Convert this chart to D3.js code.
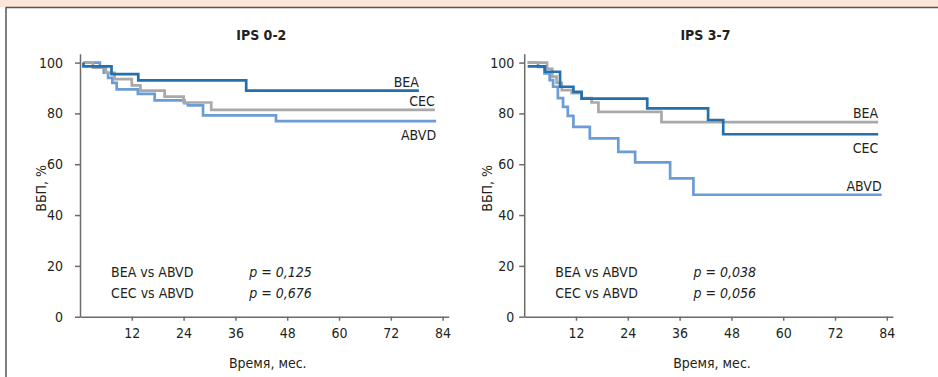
<!DOCTYPE html>
<html lang="ru">
<head>
<meta charset="UTF-8">
<title>ВБП, IPS 0-2 / IPS 3-7</title>
<script src="https://cdn.jsdelivr.net/npm/d3@7.9.0/dist/d3.min.js"></script>
<style>
  html, body { margin: 0; padding: 0; background: #fff; }
  svg { display: block; }
  text { font-family: "DejaVu Sans Condensed", "Liberation Sans Narrow", sans-serif; fill: #231f20; font-size: 14px; }
  .axis path, .axis line { stroke: #6b6b6b; stroke-width: 1.5; }
  .axis text { font-family: "DejaVu Sans Condensed", "Liberation Sans Narrow", sans-serif; font-size: 14px; fill: #231f20; }
</style>
</head>
<body>
<div id="chart"></div>
<script>
// tick labels
const monthTicks = [12, 24, 36, 48, 60, 72, 84];
const pctTicks = [0, 20, 40, 60, 80, 100];
const panelTitles = ["IPS 0-2", "IPS 3-7"];

// Kaplan-Meier steps, [month, %]
const ips02BEA  = [[0.8, 100], [0.8, 98.5], [7.3, 95.5], [13.5, 93], [38.5, 89], [78.5, 89]];
const ips02CEC  = [[0.8, 100], [3, 98], [6, 96], [8, 93.5], [12, 91], [14, 89], [19.6, 86.6],
                   [24, 84.3], [30.4, 81.4], [82.2, 81.4]];
const ips02ABVD = [[0.8, 100], [4.6, 98], [5.5, 96], [6.5, 94], [7.5, 92], [8.5, 89.5], [13.4, 87.7],
                   [17.3, 85.1], [24.2, 84], [25, 83.2], [28.5, 79.2], [45.4, 77], [82.5, 77]];

const ips37BEA  = [[0.8, 100], [5.3, 97.5], [6.5, 94.5], [7.5, 92], [8.7, 89.2], [11, 88], [13.3, 86],
                   [15.6, 84.3], [17.2, 80.6], [31.8, 76.6], [82, 76.6]];
const ips37CEC  = [[0.8, 98.5], [4.8, 96.4], [8.3, 90.5], [11.4, 88.5], [13.3, 85.8], [28.5, 82],
                   [42.6, 77.4], [46.1, 71.8], [82, 71.8]];
const ips37ABVD = [[0.8, 100], [3.2, 98.3], [4.7, 95.7], [5.9, 93.1], [6.7, 90.5], [7.8, 86], [9, 82.6],
                   [10.1, 79], [11.4, 74.7], [15.2, 70.2], [21.8, 64.9], [25.7, 60.7], [33.8, 54.4],
                   [39.2, 48], [82.8, 48]];

// log-rank comparisons
const ips02Tests = [["BEA vs ABVD", "0,125"], ["CEC vs ABVD", "0,676"]];
const ips37Tests = [["BEA vs ABVD", "0,038"], ["CEC vs ABVD", "0,056"]];

const dark = "#2470ad", grey = "#a9a9a9", light = "#6c9cd6";

const W = 938, H = 377;
const svg = d3.select("#chart").append("svg").attr("width", W).attr("height", H);

// frame: peach strip on top, rule under it and on the left
svg.append("rect").attr("x", 0).attr("y", 0).attr("width", W).attr("height", 7).attr("fill", "#fce4d7");
svg.append("line").attr("x1", 6).attr("x2", W).attr("y1", 7.5).attr("y2", 7.5)
  .attr("stroke", "#555").attr("stroke-width", 1.5);
svg.append("line").attr("x1", 6).attr("x2", 6).attr("y1", 7).attr("y2", H)
  .attr("stroke", "#555").attr("stroke-width", 1.5);

const panels = [
  { title: panelTitles[0], x0: 80, yPad: 12, labelGap: 34, tests: ips02Tests,
    series: [
      { name: "ABVD", data: ips02ABVD, color: light, pos: "below" },
      { name: "CEC",  data: ips02CEC,  color: grey,  pos: "above" },
      { name: "BEA",  data: ips02BEA,  color: dark,  pos: "above" }
    ] },
  { title: panelTitles[1], x0: 524.2, yPad: 5, labelGap: 32, tests: ips37Tests,
    series: [
      { name: "ABVD", data: ips37ABVD, color: light, pos: "above" },
      { name: "BEA",  data: ips37BEA,  color: grey,  pos: "above" },
      { name: "CEC",  data: ips37CEC,  color: dark,  pos: "below" }
    ] }
];

const pxPerMonth = 4.317;
const tMax = 85.4;

panels.forEach(p => {
  const x = d3.scaleLinear().domain([0, tMax]).range([p.x0, p.x0 + tMax * pxPerMonth]);
  const y = d3.scaleLinear().domain([0, 103.5]).range([316.7, 53.7]);
  const g = svg.append("g");

  g.append("text")
    .attr("x", x(42)).attr("y", 40)
    .attr("text-anchor", "middle")
    .style("font-weight", "bold")
    .text(p.title);

  g.append("g").attr("class", "axis")
    .attr("transform", `translate(${p.x0},0)`)
    .call(d3.axisLeft(y).tickValues(pctTicks).tickSize(5).tickSizeOuter(0).tickPadding(p.yPad));

  g.append("g").attr("class", "axis")
    .attr("transform", `translate(0,${y(0)})`)
    .call(d3.axisBottom(x).tickValues(monthTicks).tickSize(4).tickSizeOuter(0).tickPadding(7));

  g.append("text")
    .attr("transform", `translate(${p.x0 - p.labelGap},${y(50.5)}) rotate(-90)`)
    .attr("text-anchor", "middle")
    .text("ВБП, %");

  g.append("text")
    .attr("x", x(43.5)).attr("y", 368)
    .attr("text-anchor", "middle")
    .text("Время, мес.");

  const line = d3.line()
    .x(d => x(d[0]))
    .y(d => y(d[1]))
    .curve(d3.curveStepAfter);

  p.series.forEach(s => {
    g.append("path")
      .attr("d", line(s.data))
      .attr("fill", "none")
      .attr("stroke", s.color)
      .attr("stroke-width", 2.7);

    const last = s.data[s.data.length - 1];
    g.append("text")
      .attr("x", x(last[0]))
      .attr("y", y(last[1]) + (s.pos === "above" ? -4 : 19))
      .attr("text-anchor", "end")
      .text(s.name);
  });

  p.tests.forEach((t, i) => {
    const v = i === 0 ? 15.7 : 7.3;
    g.append("text")
      .attr("x", x(7.2)).attr("y", y(v))
      .text(t[0]);
    g.append("text")
      .attr("x", x(39.2)).attr("y", y(v))
      .style("font-style", "italic")
      .text(`p = ${t[1]}`);
  });
});
</script>
</body>
</html>
